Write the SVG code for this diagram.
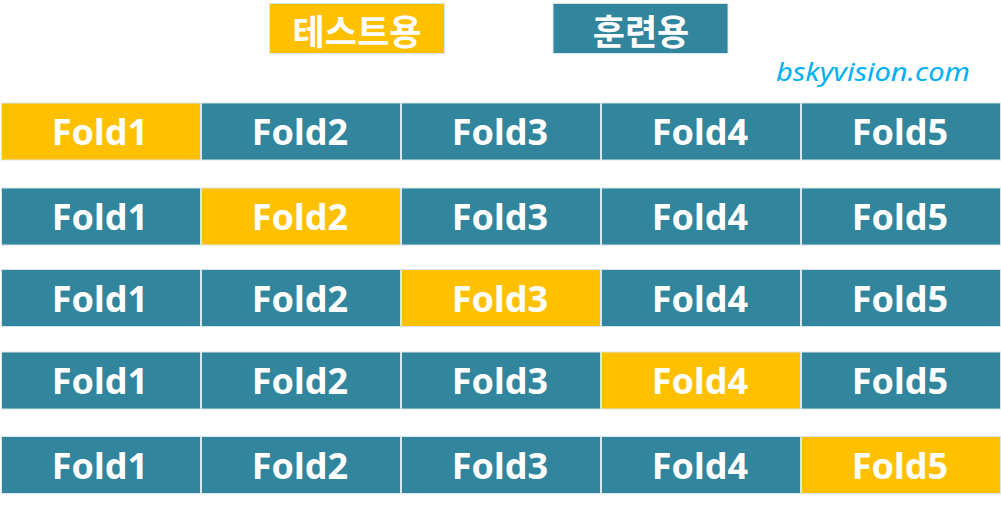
<svg xmlns="http://www.w3.org/2000/svg" width="1001" height="511" viewBox="0 0 1001 511">
<style>
.c{stroke:#d6e6ea;stroke-width:1}
.t{fill:#31859C}
.g{fill:#FFC000}
.lbl{font-family:"Noto Sans","Open Sans","Liberation Sans",sans-serif;font-weight:bold;font-size:36px;fill:#fff;text-anchor:middle;dominant-baseline:central}
.kr{font-family:"Noto Sans CJK KR","Noto Sans",sans-serif;font-weight:bold;font-size:35px;fill:#fff;text-anchor:middle;dominant-baseline:central}
.url{font-family:"Noto Sans","Open Sans",sans-serif;font-style:italic;font-size:26px;fill:#00B0F0}
</style>
<rect width="1001" height="511" fill="#fff"/>
<g id="legend-test"><rect class="g c" x="269.5" y="3.5" width="175" height="50"/><text class="kr" x="357" y="29">테스트용</text></g>
<g id="legend-train"><rect class="t c" x="553" y="3.5" width="175" height="50"/><text class="kr" x="641" y="29">훈련용</text></g>
<text class="url" x="776" y="81" textLength="194" lengthAdjust="spacingAndGlyphs">bskyvision.com</text>
<g id="row1">
<g id="r1c1"><rect class="g c" x="1.5" y="103" width="199" height="57"/><text class="lbl" x="100" y="131.5">Fold1</text></g>
<g id="r1c2"><rect class="t c" x="201.5" y="103" width="199" height="57"/><text class="lbl" x="300" y="131.5">Fold2</text></g>
<g id="r1c3"><rect class="t c" x="401.5" y="103" width="199" height="57"/><text class="lbl" x="500" y="131.5">Fold3</text></g>
<g id="r1c4"><rect class="t c" x="601.5" y="103" width="199" height="57"/><text class="lbl" x="700" y="131.5">Fold4</text></g>
<g id="r1c5"><rect class="t c" x="801.5" y="103" width="199" height="57"/><text class="lbl" x="900" y="131.5">Fold5</text></g>
</g>
<g id="row2">
<g id="r2c1"><rect class="t c" x="1.5" y="188" width="199" height="57"/><text class="lbl" x="100" y="216.5">Fold1</text></g>
<g id="r2c2"><rect class="g c" x="201.5" y="188" width="199" height="57"/><text class="lbl" x="300" y="216.5">Fold2</text></g>
<g id="r2c3"><rect class="t c" x="401.5" y="188" width="199" height="57"/><text class="lbl" x="500" y="216.5">Fold3</text></g>
<g id="r2c4"><rect class="t c" x="601.5" y="188" width="199" height="57"/><text class="lbl" x="700" y="216.5">Fold4</text></g>
<g id="r2c5"><rect class="t c" x="801.5" y="188" width="199" height="57"/><text class="lbl" x="900" y="216.5">Fold5</text></g>
</g>
<g id="row3">
<g id="r3c1"><rect class="t c" x="1.5" y="269.5" width="199" height="57"/><text class="lbl" x="100" y="298">Fold1</text></g>
<g id="r3c2"><rect class="t c" x="201.5" y="269.5" width="199" height="57"/><text class="lbl" x="300" y="298">Fold2</text></g>
<g id="r3c3"><rect class="g c" x="401.5" y="269.5" width="199" height="57"/><text class="lbl" x="500" y="298">Fold3</text></g>
<g id="r3c4"><rect class="t c" x="601.5" y="269.5" width="199" height="57"/><text class="lbl" x="700" y="298">Fold4</text></g>
<g id="r3c5"><rect class="t c" x="801.5" y="269.5" width="199" height="57"/><text class="lbl" x="900" y="298">Fold5</text></g>
</g>
<g id="row4">
<g id="r4c1"><rect class="t c" x="1.5" y="352" width="199" height="57"/><text class="lbl" x="100" y="380.5">Fold1</text></g>
<g id="r4c2"><rect class="t c" x="201.5" y="352" width="199" height="57"/><text class="lbl" x="300" y="380.5">Fold2</text></g>
<g id="r4c3"><rect class="t c" x="401.5" y="352" width="199" height="57"/><text class="lbl" x="500" y="380.5">Fold3</text></g>
<g id="r4c4"><rect class="g c" x="601.5" y="352" width="199" height="57"/><text class="lbl" x="700" y="380.5">Fold4</text></g>
<g id="r4c5"><rect class="t c" x="801.5" y="352" width="199" height="57"/><text class="lbl" x="900" y="380.5">Fold5</text></g>
</g>
<g id="row5">
<g id="r5c1"><rect class="t c" x="1.5" y="436.5" width="199" height="57"/><text class="lbl" x="100" y="465">Fold1</text></g>
<g id="r5c2"><rect class="t c" x="201.5" y="436.5" width="199" height="57"/><text class="lbl" x="300" y="465">Fold2</text></g>
<g id="r5c3"><rect class="t c" x="401.5" y="436.5" width="199" height="57"/><text class="lbl" x="500" y="465">Fold3</text></g>
<g id="r5c4"><rect class="t c" x="601.5" y="436.5" width="199" height="57"/><text class="lbl" x="700" y="465">Fold4</text></g>
<g id="r5c5"><rect class="g c" x="801.5" y="436.5" width="199" height="57"/><text class="lbl" x="900" y="465">Fold5</text></g>
</g>
<g id="connectors"></g>
</svg>
